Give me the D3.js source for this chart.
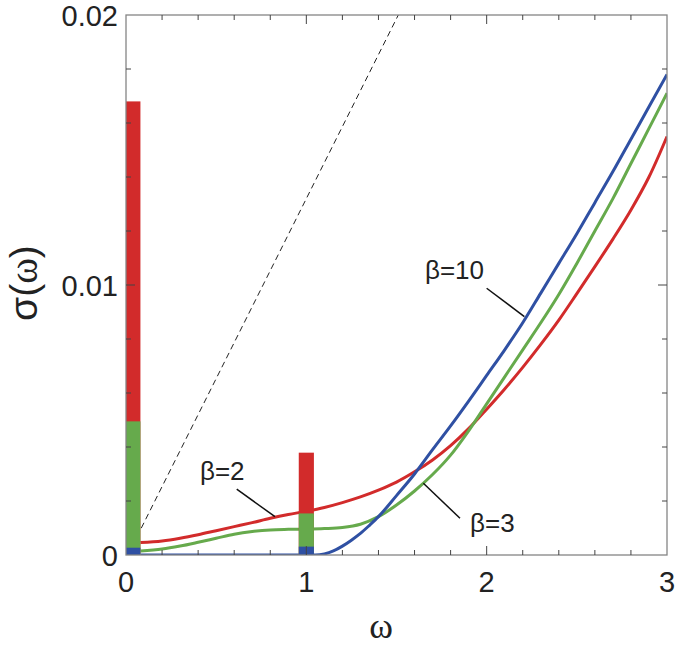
<!DOCTYPE html>
<html><head><meta charset="utf-8">
<script src="https://cdn.jsdelivr.net/npm/d3@7"></script>
<style>body{margin:0;background:#fff}</style></head>
<body>
<svg id="c" width="675" height="645"></svg>
<script>
// ---------------- data ----------------
const seriesNames = ["β=2", "β=3", "β=10"];
const omegaGrid = [0.08,0.2,0.3,0.4,0.5,0.6,0.7,0.8,0.9,1.0,1.1,1.2,1.3,1.4,1.5,1.6,1.7,1.8,1.9,2.0,2.1,2.2,2.3,2.4,2.5,2.6,2.7,2.8,2.9,3.0];
const sigmaBeta2 = [0.00046,0.00052,0.00062,0.00075,0.0009,0.00105,0.0012,0.00136,0.0015,0.00162,0.00176,0.00194,0.00215,0.0024,0.0027,0.00308,0.00352,0.00405,0.00468,0.0054,0.00615,0.00695,0.0078,0.0087,0.00968,0.01068,0.0117,0.01278,0.0140,0.0155];
const sigmaBeta3 = [0.00015,0.00022,0.00033,0.00047,0.00062,0.00077,0.00087,0.00093,0.00095,0.00096,0.00098,0.00102,0.00114,0.00142,0.00185,0.00237,0.00298,0.0037,0.0046,0.0056,0.0066,0.0076,0.0086,0.00965,0.0108,0.0120,0.0132,0.0145,0.0158,0.0171];
const omegaBeta10 = [0.08,0.5,1.0,1.05,1.1,1.15,1.2,1.25,1.3,1.35,1.4,1.5,1.6,1.7,1.8,1.9,2.0,2.1,2.2,2.3,2.4,2.5,2.6,2.7,2.8,2.9,3.0];
const sigmaBeta10 = [0,0,0,0,0.00004,0.00015,0.00033,0.00055,0.0008,0.0011,0.00142,0.0022,0.003,0.0039,0.00478,0.0057,0.00665,0.0076,0.0086,0.0097,0.0108,0.0119,0.01305,0.0142,0.0154,0.0166,0.0178];

// delta-peak bars (omega interval) and heights per beta
const barOmegaStart = [0, 0.958];
const barOmegaEnd   = [0.08, 1.042];
const barBeta2  = [0.0168, 0.00379];
const barBeta3  = [0.00495, 0.00154];
const barBeta10 = [0.00027, 0.00031];

// dashed reference line
const refOmega = [0.01, 1.51];
const refSigma = [0, 0.02];

// annotations: label position, leader start, leader end (data coords)
const annText   = ["β=2", "β=10", "β=3"];
const annTextW  = [0.41, 1.658, 1.908];
const annTextS  = [0.00278, 0.01022, 0.00085];
const annFromW  = [0.614, 2.0, 1.852];
const annFromS  = [0.00244, 0.00988, 0.00136];
const annToW    = [0.826, 2.209, 1.649];
const annToS    = [0.00142, 0.00883, 0.00266];

const xTickLabels = ["0","1","2","3"];
const xTickValues = [0,1,2,3];
const yTickLabels = ["0","0.01","0.02"];
const yTickValues = [0,0.01,0.02];

// ---------------- drawing ----------------
const colors = ["#d22b2b", "#66aa4c", "#2f50a3"];
const svg = d3.select("#c");
const x = d3.scaleLinear().domain([0,3]).range([126,667]);
const y = d3.scaleLinear().domain([0,0.02]).range([555,15]);

svg.append("defs").append("clipPath").attr("id","pc")
  .append("rect").attr("x",126).attr("y",15).attr("width",541).attr("height",540);

const plot = svg.append("g").attr("clip-path","url(#pc)");

const smooth = d3.line().x(d=>x(d[0])).y(d=>y(d[1])).curve(d3.curveCatmullRom.alpha(0.5));
const mono = d3.line().x(d=>x(d[0])).y(d=>y(d[1])).curve(d3.curveMonotoneX);
const series = [
  omegaGrid.map((w,i)=>[w, sigmaBeta2[i]]),
  omegaGrid.map((w,i)=>[w, sigmaBeta3[i]]),
  omegaBeta10.map((w,i)=>[w, sigmaBeta10[i]])
];
series.forEach((s,i)=>{
  plot.append("path").attr("d", (i===2?mono:smooth)(s)).attr("fill","none")
    .attr("stroke", colors[i]).attr("stroke-width", 3);
});

// dashed line
plot.append("path")
  .attr("d", d3.line().x(d=>x(d[0])).y(d=>y(d[1]))(refOmega.map((w,i)=>[w, refSigma[i]])))
  .attr("fill","none").attr("stroke","#222").attr("stroke-width",1)
  .attr("stroke-dasharray","6,4");

// bars
[barBeta2, barBeta3, barBeta10].forEach((h,si)=>{
  plot.selectAll(null).data(h).enter().append("rect")
    .attr("x",(d,i)=>x(barOmegaStart[i]))
    .attr("width",(d,i)=>x(barOmegaEnd[i])-x(barOmegaStart[i]))
    .attr("y",d=>y(d))
    .attr("height",d=>y(0)-y(d))
    .attr("fill", colors[si]);
});

// frame
svg.append("rect").attr("x",126).attr("y",15).attr("width",541).attr("height",540)
  .attr("fill","none").attr("stroke","#858585").attr("stroke-width",1.3);

// ticks (inward, all four sides)
const xMinor = d3.range(0, 3.0001, 0.2);
const yMinor = d3.range(0, 0.02001, 0.002);
const tg = svg.append("g").attr("stroke","#444").attr("stroke-width",1);
xMinor.forEach(v=>{
  const major = Math.abs(v-Math.round(v))<1e-6;
  const L = major?9:5;
  if (v<=0.0001 || v>=2.9999) return;
  tg.append("line").attr("x1",x(v)).attr("x2",x(v)).attr("y1",y(0)).attr("y2",y(0)-L);
  tg.append("line").attr("x1",x(v)).attr("x2",x(v)).attr("y1",y(0.02)).attr("y2",y(0.02)+L);
});
yMinor.forEach(v=>{
  const major = Math.abs(v/0.01-Math.round(v/0.01))<1e-6;
  const L = major?9:5;
  if (v<=0.00001 || v>=0.01999) return;
  tg.append("line").attr("x1",x(0)).attr("x2",x(0)+L).attr("y1",y(v)).attr("y2",y(v));
  tg.append("line").attr("x1",x(3)).attr("x2",x(3)-L).attr("y1",y(v)).attr("y2",y(v));
});

// tick labels
const lf = "'Liberation Sans', Arial, sans-serif";
svg.selectAll(null).data(xTickValues).enter().append("text")
  .attr("x",d=>x(d)).attr("y",592).attr("text-anchor","middle")
  .attr("font-family",lf).attr("font-size",29).attr("fill","#222")
  .text((d,i)=>xTickLabels[i]);
svg.selectAll(null).data(yTickValues).enter().append("text")
  .attr("x",118).attr("y",d=>y(d)+10.5).attr("text-anchor","end")
  .attr("font-family",lf).attr("font-size",29).attr("fill","#222")
  .text((d,i)=>yTickLabels[i]);

// axis titles
svg.append("text").attr("x",381).attr("y",638).attr("text-anchor","middle")
  .attr("font-family","'Liberation Serif', 'Times New Roman', serif").attr("font-size",36).attr("fill","#222")
  .text("ω");
const yt = svg.append("text").attr("transform","translate(37,283) rotate(-90)")
  .attr("text-anchor","middle").attr("font-family",lf).attr("font-size",39).attr("fill","#222");
yt.append("tspan").text("σ");
yt.append("tspan").text("(");
yt.append("tspan").attr("font-family","'Liberation Serif', serif").text("ω");
yt.append("tspan").text(")");

// annotations
const ag = svg.append("g");
annText.forEach((t,i)=>{
  ag.append("line").attr("x1",x(annFromW[i])).attr("y1",y(annFromS[i]))
    .attr("x2",x(annToW[i])).attr("y2",y(annToS[i]))
    .attr("stroke","#111").attr("stroke-width",1.5);
  ag.append("text").attr("x",x(annTextW[i])).attr("y",y(annTextS[i]))
    .attr("font-family",lf).attr("font-size",26).attr("fill","#222").text(t);
});
</script>
</body></html>
